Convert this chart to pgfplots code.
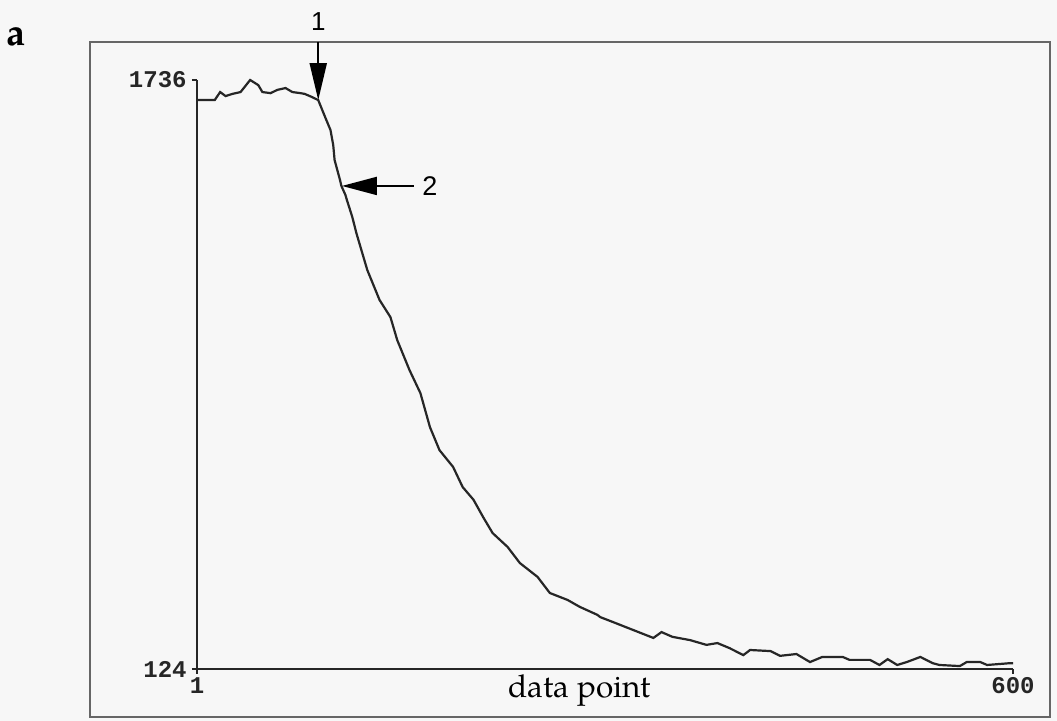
\documentclass[border=0pt]{standalone}
\usepackage{fontspec}
\setmainfont{TeX Gyre Pagella}
\newfontfamily\tickfont{Liberation Mono}
\newfontfamily\arrowfont{Liberation Sans}
\usepackage{pgfplots}
\pgfplotsset{compat=1.18}
\usetikzlibrary{arrows.meta}

% signal trace: data point vs. intensity
\pgfplotstableread{
x y
1 1681
14 1681
18 1703
22 1692
27 1698
33 1703
40 1736
46 1722
49 1703
55 1700
60 1709
66 1714
71 1703
77 1700
80 1698
85 1690
90 1681
95 1635
99 1599
101 1558
102 1517
106 1462
107 1446
110 1421
111 1408
115 1361
118 1317
126 1216
135 1134
143 1087
148 1024
157 942
165 879
172 786
179 723
189 677
196 622
204 587
211 540
218 496
229 458
238 414
251 376
260 332
273 313
282 294
295 272
297 266
306 253
321 231
336 209
342 225
350 212
363 203
375 190
383 195
392 181
402 162
407 176
422 173
429 160
441 165
451 143
460 157
475 157
480 149
495 149
502 135
508 151
515 135
522 143
532 157
541 140
546 135
561 132
566 143
576 143
581 135
598 140
600 140
}\trace

\begin{document}
\begin{tikzpicture}
\fill[black!3] (0pt,0pt) rectangle (528.5pt,-360.5pt);
\useasboundingbox (0pt,0pt) rectangle (528.5pt,-360.5pt);
% outer panel frame
\draw[black!60, line width=1.2pt] (45pt,-21pt) rectangle (525pt,-358.5pt);
\node[font=\bfseries\fontsize{19}{19}\selectfont] at (7.75pt,-18.25pt) {a};
\begin{axis}[
  at={(98.5pt,-334.5pt)}, anchor=south west,
  scale only axis, width=408pt, height=294.5pt,
  xmin=1, xmax=600, ymin=124, ymax=1736,
  axis x line=bottom, axis y line=left,
  axis line style={-, line width=0.8pt, black!85},
  tick align=outside, major tick length=2.5pt,
  tick style={line width=0.8pt, black!85},
  xtick={1,600}, xticklabels={1,600},
  ytick={124,1736}, yticklabels={124,1736},
  ticklabel style={font=\tickfont\bfseries\fontsize{12}{12}\selectfont, black!85},
  xticklabel style={inner sep=1.5pt},
  yticklabel style={inner sep=2.5pt},
  clip=false,
]
\addplot[black!85, line width=1.1pt] table[x=x, y=y] {\trace};
% annotation arrows
\draw[-{Triangle[length=18.5pt,width=8.5pt]}, line width=1pt] (axis cs:90,1840) -- (axis cs:90,1681);
\node[font=\arrowfont\fontsize{13}{13}\selectfont] at (axis cs:90,1895) {1};
\draw[-{Triangle[length=17.5pt,width=9pt]}, line width=1pt] (axis cs:160,1446) -- (axis cs:107.4,1446);
\node[font=\arrowfont\fontsize{13.5}{13.5}\selectfont] at (axis cs:172,1446) {2};
\node[font=\fontsize{15.75}{15.75}\selectfont, anchor=base] at (axis cs:282,47) {data point};
\end{axis}
\end{tikzpicture}
\end{document}
